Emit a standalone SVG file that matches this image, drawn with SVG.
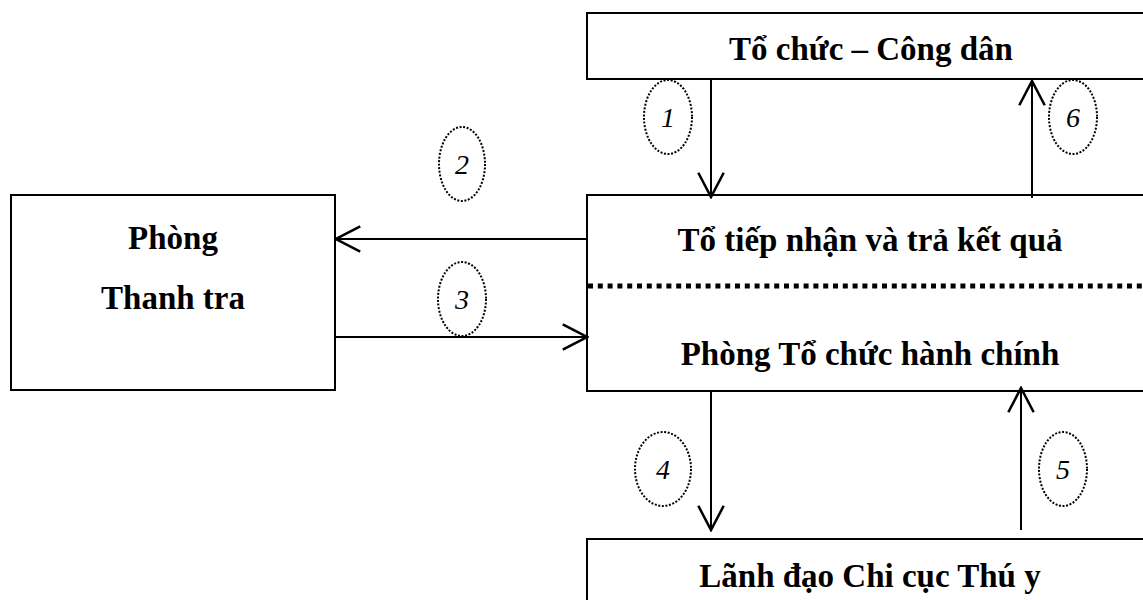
<svg xmlns="http://www.w3.org/2000/svg" width="1143" height="600" viewBox="0 0 1143 600">
<defs>
<style>
.box{fill:#fff;stroke:#000;stroke-width:2}
.lbl{font-family:"Liberation Serif","Times New Roman",serif;font-weight:bold;font-size:33px;fill:#000;text-anchor:middle}
.num{font-family:"Liberation Serif","Times New Roman",serif;font-style:italic;font-size:28px;fill:#000;text-anchor:middle}
.ell{fill:none;stroke:#000;stroke-width:2;stroke-dasharray:2 1.6}
.con{fill:none;stroke:#000;stroke-width:2;marker-end:url(#ah)}
</style>
<marker id="ah" markerUnits="userSpaceOnUse" markerWidth="30" markerHeight="30" viewBox="-24 -13 26 26" refX="0" refY="0" orient="auto">
<path d="M-21,-11 L0,0 L-21,11" fill="none" stroke="#000" stroke-width="2.2"/>
</marker>
</defs>
<rect width="1143" height="600" fill="#fff"/>
<g id="to-chuc-cong-dan">
<rect class="box" x="587" y="13" width="600" height="66"/>
<text class="lbl" x="871" y="60">Tổ chức – Công dân</text>
</g>
<g id="tiep-nhan">
<rect class="box" x="587" y="195" width="600" height="196"/>
<line x1="588" y1="286" x2="1143" y2="286" stroke="#000" stroke-width="5" stroke-dasharray="5 4.8"/>
<text class="lbl" x="870" y="251">Tổ tiếp nhận và trả kết quả</text>
<text class="lbl" x="870" y="365">Phòng Tổ chức hành chính</text>
</g>
<g id="lanh-dao">
<rect class="box" x="587" y="539" width="600" height="80"/>
<text class="lbl" x="870" y="587">Lãnh đạo Chi cục Thú y</text>
</g>
<g id="thanh-tra">
<rect class="box" x="11" y="195" width="324" height="195"/>
<text class="lbl" x="173" y="249">Phòng</text>
<text class="lbl" x="173" y="309">Thanh tra</text>
</g>
<g id="connectors">
<line class="con" x1="711" y1="79" x2="711" y2="197"/>
<line class="con" x1="1032" y1="198" x2="1032" y2="81"/>
<line class="con" x1="711" y1="391" x2="711" y2="530"/>
<line class="con" x1="1021" y1="530" x2="1021" y2="388"/>
<line class="con" x1="587" y1="239" x2="336" y2="239"/>
<line class="con" x1="335" y1="337" x2="587" y2="337"/>
</g>
<g id="step-labels">
<ellipse class="ell" cx="668" cy="117" rx="24" ry="37"/>
<text class="num" x="668" y="127">1</text>
<ellipse class="ell" cx="1073" cy="117" rx="24" ry="37"/>
<text class="num" x="1073" y="127">6</text>
<ellipse class="ell" cx="462" cy="164" rx="23" ry="37"/>
<text class="num" x="462" y="174">2</text>
<ellipse class="ell" cx="462" cy="299" rx="24" ry="37"/>
<text class="num" x="462" y="309">3</text>
<ellipse class="ell" cx="663" cy="469" rx="28" ry="37"/>
<text class="num" x="663" y="479">4</text>
<ellipse class="ell" cx="1063" cy="469" rx="24" ry="37"/>
<text class="num" x="1063" y="479">5</text>
</g>
</svg>
